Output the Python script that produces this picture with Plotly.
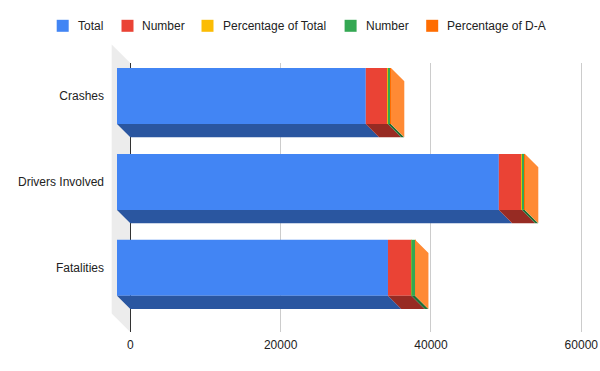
import plotly.graph_objects as go

# ---------------- data ----------------
categories = ["Crashes", "Drivers Involved", "Fatalities"]
series_names = ["Total", "Number", "Percentage of Total", "Number", "Percentage of D-A"]
total = [33100, 50800, 36050]
number = [2930, 3060, 3100]
pct_total = [8.9, 6.0, 8.6]
number_da = [400, 400, 490]
pct_da = [13.7, 13.1, 15.8]
x_tick_values = [0, 20000, 40000, 60000]
x_tick_labels = ["0", "20000", "40000", "60000"]

series_values = [total, number, pct_total, number_da, pct_da]

# ---------------- styles ----------------
front_colors = ["#4285F4", "#EA4335", "#FBBC04", "#34A853", "#FF6D01"]
bottom_colors = ["#2A56A0", "#972B23", "#A37A03", "#216D35", "#A64701"]
side_color = "#FF8A34"
wall_color = "#ECECEC"
font_family = "Arial, 'Liberation Sans', sans-serif"

W, H = 600, 371
L, R, T, B = 111, 5, 63, 39
plot_w = W - L - R
plot_h = H - T - B
zero_px = 130.3 - L          # position of x=0 inside plot area (px)
px_per_unit = 451 / 60000    # horizontal scale
depth_px = 13.3              # 3D depth of the bars
wall_px = 18.6               # 3D depth of the left wall
band_px = 85.9               # distance between categories
front_center0 = 96 - T       # centre of first front face from plot top
bar_px = 56                  # bar thickness

# legend layout (pixel positions)
legend_square_x = [56.7, 121.5, 201.5, 344.6, 426.2]
legend_text_x = [77.3, 140.8, 222.3, 364.6, 446.2]
legend_y = 25.8
legend_square = 12

x_range = [-zero_px / px_per_unit, (plot_w - zero_px) / px_per_unit]
y_top = -front_center0 / band_px
y_bot = (plot_h - front_center0) / band_px
dx = depth_px / px_per_unit
dy = depth_px / band_px
bw = bar_px / band_px

ypos = list(range(len(categories)))

fig = go.Figure()

# cumulative stacks
cum_before = []
running = [0.0] * len(categories)
for vals in series_values:
    cum_before.append(running[:])
    running = [r + v for r, v in zip(running, vals)]
totals = running

# bottom faces
for s, vals in enumerate(series_values):
    xs, ys = [], []
    for i in ypos:
        a = cum_before[s][i]
        b = a + vals[i]
        yb = i + bw / 2
        xs += [a - dx, b - dx, b, a, a - dx, None]
        ys += [yb, yb, yb + dy, yb + dy, yb, None]
    fig.add_trace(go.Scatter(x=xs, y=ys, mode="lines", fill="toself",
                             fillcolor=bottom_colors[s], line=dict(width=0),
                             hoverinfo="skip", showlegend=False))

# right side faces (colour of last segment, lighter)
xs, ys = [], []
for i in ypos:
    t_ = totals[i]
    yt = i - bw / 2
    yb = i + bw / 2
    xs += [t_ - dx, t_, t_, t_ - dx, t_ - dx, None]
    ys += [yt, yt + dy, yb + dy, yb, yt, None]
fig.add_trace(go.Scatter(x=xs, y=ys, mode="lines", fill="toself",
                         fillcolor=side_color, line=dict(width=0),
                         hoverinfo="skip", showlegend=False))

# front faces
for s, vals in enumerate(series_values):
    fig.add_trace(go.Bar(
        y=ypos, x=vals, base=[c - dx for c in cum_before[s]],
        orientation="h", width=bw, name=series_names[s],
        marker=dict(color=front_colors[s], line=dict(width=0)),
        showlegend=False,
    ))


def px2paper_x(px):
    return (px - L) / plot_w


def px2paper_y(py):
    return (H - B - py) / plot_h


# left wall (decoration)
wx1 = 130.3
wx0 = wx1 - wall_px
wy_top = T
wy_bot = H - B
path = "M {} {} L {} {} L {} {} L {} {} Z".format(
    px2paper_x(wx0), px2paper_y(wy_top - wall_px),
    px2paper_x(wx1), px2paper_y(wy_top),
    px2paper_x(wx1), px2paper_y(wy_bot),
    px2paper_x(wx0), px2paper_y(wy_bot - wall_px),
)
fig.add_shape(type="path", path=path, xref="paper", yref="paper",
              fillcolor=wall_color, line=dict(width=0), layer="below")

# legend (squares + real text)
for s, name in enumerate(series_names):
    sx = legend_square_x[s]
    fig.add_shape(type="rect", xref="paper", yref="paper",
                  x0=px2paper_x(sx), x1=px2paper_x(sx + legend_square),
                  y0=px2paper_y(legend_y - legend_square / 2),
                  y1=px2paper_y(legend_y + legend_square / 2),
                  fillcolor=front_colors[s], line=dict(width=0))
    fig.add_annotation(text=name, xref="paper", yref="paper",
                       x=px2paper_x(legend_text_x[s] - 1), y=px2paper_y(legend_y),
                       xanchor="left", yanchor="middle", showarrow=False,
                       font=dict(size=12, color="#222222"))

fig.update_layout(
    width=W, height=H,
    margin=dict(l=L, r=R, t=T, b=B, pad=0, autoexpand=False),
    paper_bgcolor="white", plot_bgcolor="white",
    barmode="overlay",
    font=dict(family=font_family, size=12, color="#222222"),
    showlegend=False,
    xaxis=dict(range=x_range, tickvals=x_tick_values, ticktext=x_tick_labels,
               showgrid=True, gridcolor="#CCCCCC", gridwidth=1,
               zeroline=True, zerolinecolor="#333333", zerolinewidth=1,
               showline=False, ticks="", ticklabelstandoff=4, automargin=False,
               tickfont=dict(size=12, color="#222222"), fixedrange=True),
    yaxis=dict(range=[y_bot, y_top], tickvals=ypos, ticktext=categories,
               showgrid=False, zeroline=False, showline=False, ticks="",
               ticklabelstandoff=6, automargin=False,
               tickfont=dict(size=12, color="#222222"), fixedrange=True),
)

fig.write_html("out.html",
               config={"displayModeBar": False, "staticPlot": False},
               post_script="document.body.style.margin='0';document.body.style.overflow='hidden';")
